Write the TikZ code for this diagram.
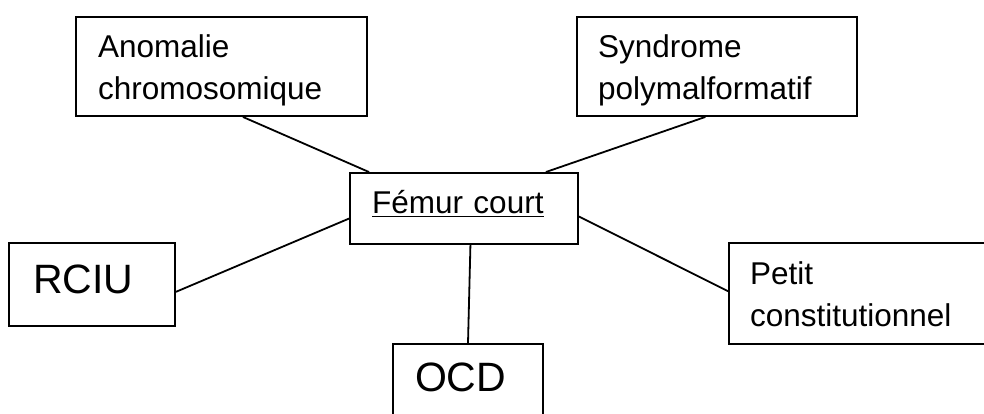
\documentclass[tikz,border=0pt]{standalone}
\usepackage{fontspec}
\setmainfont{Liberation Sans}
\newcommand{\etai}{\rule[-7pt]{0pt}{38pt}}
\tikzset{
  boite/.style={draw,rectangle,line width=1.9pt,inner ysep=0pt,align=left,font=\fontsize{31.5}{42}\selectfont},
  grande/.style={boite,font=\fontsize{41}{48}\selectfont},
  trait/.style={line width=1.8pt}
}
\begin{document}
\begin{tikzpicture}[x=1pt,y=1pt]
    \useasboundingbox (0,0) rectangle (984,414);

    \node[boite,minimum width=291pt,minimum height=99pt,text width=247pt,inner xsep=22pt] (anomalie) at (221.5,347.5) {\etai Anomalie\\chromosomique\etai};
    \node[boite,minimum width=280pt,minimum height=99pt,text width=238pt,inner xsep=21pt] (syndrome) at (717,347.5) {\etai Syndrome\\polymalformatif\etai};
    \node[boite,minimum width=228pt,minimum height=71pt,text width=184pt,inner xsep=22pt,text height=24pt,text depth=13pt] (femur) at (464,205.5) {\underline{Fémur court}};
    \node[grande,minimum width=166pt,minimum height=83pt,text width=118pt,inner xsep=24pt,text height=28pt,text depth=9pt] (rciu) at (92,129.5) {RCIU};
    \node[boite,minimum width=260pt,minimum height=101pt,text width=218pt,inner xsep=21pt] (petit) at (859,120.5) {\etai Petit\\constitutionnel\etai};
    \node[grande,minimum width=150pt,minimum height=83pt,text width=106pt,inner xsep=22pt,text height=28pt,text depth=15pt] (ocd) at (468,28.5) {OCD};

    \draw[trait] (anomalie.-67.5) -- (femur.159.9);
    \draw[trait] (syndrome.-103.6) -- (femur.24.2);
    \draw[trait] (rciu.-5.2) -- (femur.-175.7);
    \draw[trait] (petit.179.3) -- (femur.-4.3);
    \draw[trait] (ocd.north) -- (femur.-80.4);
\end{tikzpicture}
\end{document}
